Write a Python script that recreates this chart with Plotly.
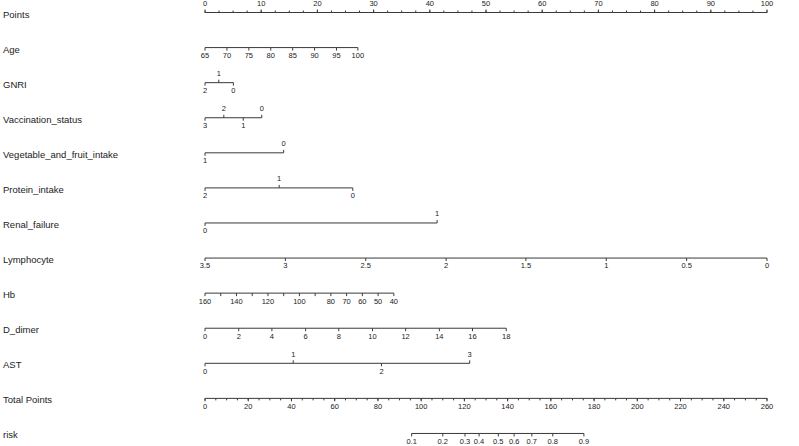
import plotly.graph_objects as go

# row labels (top to bottom)
row_names = ["Points", "Age", "GNRI", "Vaccination_status", "Vegetable_and_fruit_intake",
             "Protein_intake", "Renal_failure", "Lymphocyte", "Hb", "D_dimer", "AST",
             "Total Points", "risk"]

# points scale
points_lbl = ["0", "10", "20", "30", "40", "50", "60", "70", "80", "90", "100"]
points_pos = [0, 10, 20, 30, 40, 50, 60, 70, 80, 90, 100]

# predictors: labels and where they sit on the points scale
age_lbl = ["65", "70", "75", "80", "85", "90", "95", "100"]
age_pos = [0, 3.9, 7.8, 11.7, 15.6, 19.5, 23.4, 27.2]

gnri_lbl = ["2", "1", "0"]
gnri_pos = [0, 2.45, 5.05]

vacc_lbl = ["3", "2", "1", "0"]
vacc_pos = [0, 3.35, 6.8, 10.1]

veg_lbl = ["1", "0"]
veg_pos = [0, 14.0]

protein_lbl = ["2", "1", "0"]
protein_pos = [0, 13.2, 26.3]

renal_lbl = ["0", "1"]
renal_pos = [0, 41.3]

lymph_lbl = ["3.5", "3", "2.5", "2", "1.5", "1", "0.5", "0"]
lymph_pos = [0, 14.3, 28.6, 42.9, 57.1, 71.4, 85.7, 100]

hb_lbl = ["160", "", "140", "", "120", "", "100", "", "80", "70", "60", "50", "40"]
hb_pos = [0, 2.8, 5.6, 8.4, 11.2, 14.0, 16.8, 19.6, 22.4, 25.2, 28.0, 30.8, 33.6]

ddimer_lbl = ["0", "2", "4", "6", "8", "10", "12", "14", "16", "18"]
ddimer_pos = [0, 6.0, 11.9, 17.9, 23.8, 29.8, 35.7, 41.7, 47.6, 53.6]

ast_lbl = ["0", "1", "2", "3"]
ast_pos = [0, 15.7, 31.4, 47.1]

# total points scale
total_lbl = [str(v) for v in range(0, 261, 20)]
total_pos = list(range(0, 261, 20))

# risk, positioned on the total points scale
risk_lbl = ["0.1", "0.2", "0.3", "0.4", "0.5", "0.6", "0.7", "0.8", "0.9"]
risk_total = [95.6, 110.0, 120.3, 126.8, 135.7, 143.0, 151.2, 160.9, 175.3]

# which side of the line each label sits on
A, B = "above", "below"
total_scale = 100 / 260  # total points -> points axis units

axes = [
    (points_pos, points_lbl, [A] * 11, [i * 2.5 for i in range(41)]),
    (age_pos, age_lbl, [B] * 8, None),
    (gnri_pos, gnri_lbl, [B, A, B], None),
    (vacc_pos, vacc_lbl, [B, A, B, A], None),
    (veg_pos, veg_lbl, [B, A], None),
    (protein_pos, protein_lbl, [B, A, B], None),
    (renal_pos, renal_lbl, [B, A], None),
    (lymph_pos, lymph_lbl, [B] * 8, None),
    (hb_pos, hb_lbl, [B] * 13, None),
    (ddimer_pos, ddimer_lbl, [B] * 10, None),
    (ast_pos, ast_lbl, [B, A, B, A], None),
    ([p * total_scale for p in total_pos], total_lbl, [B] * 14,
     [i * 5 * total_scale for i in range(53)]),
    ([p * total_scale for p in risk_total], risk_lbl, [B] * 9, None),
]

y0, dy = 12.5, 35.08
tick_len, minor_len, lab_off = 3, 2, 8.5

lx, ly = [], []
tx, ty, tt = [], [], []
for i, (pos, lbl, sides, minor) in enumerate(axes):
    y = y0 + dy * i
    lx += [min(pos), max(pos), None]
    ly += [y, y, None]
    if minor is not None:
        d = -minor_len if sides[0] == A else minor_len
        for m in minor:
            lx += [m, m, None]
            ly += [y, y + d, None]
    for p, t, s in zip(pos, lbl, sides):
        d = -1 if s == A else 1
        lx += [p, p, None]
        ly += [y, y + d * tick_len, None]
        if t:
            tx.append(p)
            ty.append(y + d * lab_off)
            tt.append(t)

fig = go.Figure()
fig.add_trace(go.Scatter(x=lx, y=ly, mode="lines", line=dict(color="#3a3a3a", width=1),
                         hoverinfo="skip", showlegend=False))
fig.add_trace(go.Scatter(x=tx, y=ty, text=tt, mode="text", textposition="middle center",
                         textfont=dict(family="Liberation Sans", size=7.5, color="#222222"),
                         hoverinfo="skip", showlegend=False))

for i, name in enumerate(row_names):
    fig.add_annotation(x=0, xref="paper", y=y0 + dy * i + 1.5, yref="y", text=name,
                       showarrow=False, xanchor="left", yanchor="middle", xshift=1,
                       font=dict(family="Liberation Sans", size=9.5, color="#222222"))

px_per_pt = 5.62
x_min = -205.0 / px_per_pt
x_max = x_min + 799 / px_per_pt

fig.update_layout(
    width=799, height=446,
    margin=dict(l=0, r=0, t=0, b=0),
    plot_bgcolor="white", paper_bgcolor="white",
    xaxis=dict(range=[x_min, x_max], visible=False, fixedrange=True),
    yaxis=dict(range=[446, 0], visible=False, fixedrange=True),
)

# drop the default page margin so the figure sits at the window's corner
fig.write_html("out.html", config={"displayModeBar": False},
               post_script="document.body.style.margin='0';")
